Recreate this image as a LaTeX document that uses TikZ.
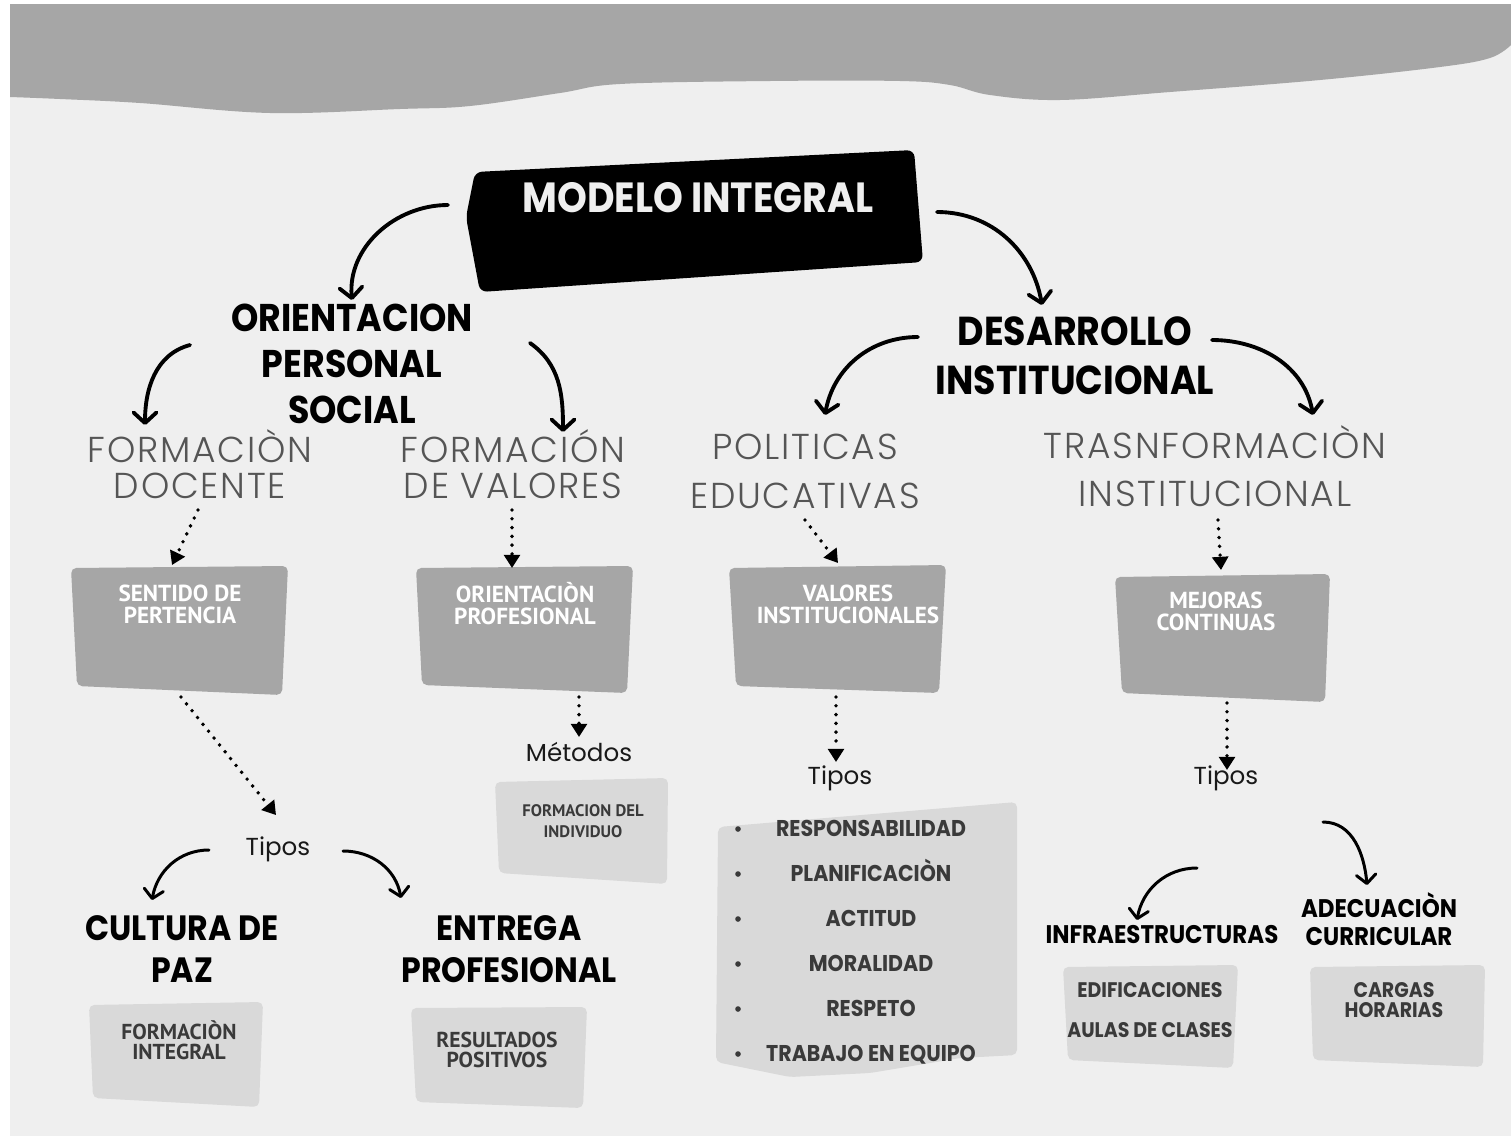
\documentclass[tikz,border=0pt]{standalone}
\usepackage{fontspec}
\setmainfont{Poppins}
\newfontfamily\headfont{Poppins}[FakeStretch=0.9]
\newfontfamily\thinfont{Poppins Light}[LetterSpace=5]
\newfontfamily\boxfont{PT Sans}
\usetikzlibrary{arrows.meta}
\usetikzlibrary{calc}
\tikzset{>=latex}

\definecolor{paper}{HTML}{EFEFEF}
\definecolor{wavegray}{HTML}{A6A6A6}
\definecolor{darkpatch}{HTML}{A6A6A6}
\definecolor{lightpatch}{HTML}{D9D9D9}
\definecolor{headgray}{HTML}{555555}
\definecolor{inkgray}{HTML}{3A3A3A}

\tikzset{
  title/.style={font=\headfont\bfseries\fontsize{22}{26}\selectfont, align=center, inner sep=0pt},
  subtitle/.style={font=\thinfont\fontsize{20.5}{20.5}\selectfont, text=headgray, align=center, inner sep=0pt},
  boxtext/.style={font=\boxfont\bfseries\fontsize{13.2}{12.5}\selectfont, text=white, align=center, inner sep=0pt},
  notetext/.style={font=\boxfont\bfseries\fontsize{12.3}{11.5}\selectfont, text=inkgray, align=center, inner sep=0pt},
  listtext/.style={font=\headfont\bfseries\fontsize{13}{13}\selectfont, text=inkgray, align=center, inner sep=0pt},
  smalltitle/.style={font=\headfont\bfseries\fontsize{14.5}{16}\selectfont, align=center, inner sep=0pt},
  plain/.style={font=\fontsize{14}{16}\selectfont, text=black!90, inner sep=0pt},
  curvy/.style={-{Straight Barb[round,length=6pt,width=13pt]}, line width=2.2pt, line cap=round},
  thincurvy/.style={-{Straight Barb[round,length=5pt,width=11pt]}, line width=1.7pt, line cap=round},
  dotty/.style={-{Triangle[length=7.5pt,width=9pt]}, line width=2.2pt, line cap=round, dash pattern=on 0pt off 5pt},
}

\begin{document}
\begin{tikzpicture}[x=0.02cm, y=-0.02cm]
    \useasboundingbox (0,0) rectangle (1511,1136);

    % Paper and grey wave on top
    \fill[white] (0,0) rectangle (1511,1136);
    \fill[paper] (10,4) rectangle (1511,1136);
    \fill[wavegray] (10,4) -- (1511,4) -- plot[smooth, tension=0.6] coordinates {(1511,45) (1490,58) (1440,67) (1320,80) (1170,92) (1060,100) (990,95) (950,85) (900,81) (770,81) (620,84) (560,93) (470,106) (400,109) (270,113) (140,103) (60,99) (10,97)} -- cycle;

    % Patches behind the texts
    \fill[black, rounded corners=4pt] (475,172) -- (914,150) -- (923,262) -- (480,292) -- (466,217) -- cycle;
    \fill[darkpatch, rounded corners=3pt] (71,568) -- (288,566) -- (282,695) -- (77,686) -- cycle;
    \fill[darkpatch, rounded corners=3pt] (416,568) -- (633,566) -- (627,693) -- (422,685) -- cycle;
    \fill[darkpatch, rounded corners=3pt] (729,568) -- (946,565) -- (939,693) -- (736,686) -- cycle;
    \fill[darkpatch, rounded corners=3pt] (1115,577) -- (1330,574) -- (1325,702) -- (1122,693) -- cycle;
    \fill[lightpatch, rounded corners=3pt] (495,782) -- (668,778) -- (667,884) -- (499,873) -- cycle;
    \fill[lightpatch, rounded corners=3pt] (89,1005) -- (263,1002) -- (259,1107) -- (93,1098) -- cycle;
    \fill[lightpatch, rounded corners=3pt] (411,1008) -- (587,1007) -- (583,1108) -- (416,1102) -- cycle;
    \fill[lightpatch, rounded corners=3pt] (718,827) -- (1017,802) -- (1017,1055) -- (960,1058) -- (870,1073) -- (790,1077) -- (716,1062) -- cycle;
    \fill[lightpatch, rounded corners=3pt] (1063,967) -- (1238,965) -- (1233,1068) -- (1068,1060) -- cycle;
    \fill[lightpatch, rounded corners=3pt] (1310,967) -- (1485,965) -- (1483,1067) -- (1313,1060) -- cycle;

    % Headings
    \node[title, text=paper, font=\headfont\bfseries\fontsize{24}{26}\selectfont] (modelo) at (698,198) {MODELO INTEGRAL};
    \node[title] (orient) at (352,364) {ORIENTACION\\PERSONAL\\SOCIAL};
    \node[title, font=\headfont\bfseries\fontsize{23}{28}\selectfont] (desarrollo) at (1075,356) {DESARROLLO\\INSTITUCIONAL};

    \node[subtitle] (fdocente) at (200,464) {FORMACIÒN\\DOCENTE};
    \node[subtitle] (fvalores) at (513,464) {FORMACIÓN\\DE VALORES};
    \node[subtitle, font=\thinfont\fontsize{20.5}{28}\selectfont] (politicas) at (805,471) {POLITICAS\\EDUCATIVAS};
    \node[subtitle, font=\thinfont\fontsize{20.5}{27.5}\selectfont] (trans) at (1215,466) {TRASNFORMACIÒN\\INSTITUCIONAL};

    % Texts on the dark patches
    \node[boxtext] (sentido) at (180,604) {SENTIDO DE\\PERTENCIA};
    \node[boxtext] (oprof) at (525,604) {ORIENTACIÒN\\PROFESIONAL};
    \node[boxtext] (valores) at (848,604) {VALORES\\INSTITUCIONALES};
    \node[boxtext] (mejoras) at (1216,611) {MEJORAS\\CONTINUAS};

    \node[plain] (metodos) at (579,752) {Métodos};
    \node[plain] (tipos1) at (278,849) {Tipos};
    \node[plain] (tipos2) at (840,778) {Tipos};
    \node[plain] (tipos3) at (1226,778) {Tipos};

    \node[notetext, font=\boxfont\bfseries\fontsize{9.5}{12}\selectfont] (individuo) at (583,821) {FORMACION DEL\\INDIVIDUO};

    \node[title, font=\headfont\bfseries\fontsize{20}{24}\selectfont] (cultura) at (182,949) {CULTURA DE\\PAZ};
    \node[title, font=\headfont\bfseries\fontsize{20}{24}\selectfont] (entrega) at (509,949) {ENTREGA\\PROFESIONAL};
    \node[notetext] (fintegral) at (179,1040) {FORMACIÒN\\INTEGRAL};
    \node[notetext] (resultados) at (497,1050) {RESULTADOS\\POSITIVOS};

    % List of values
    \foreach \word [count=\k] in {RESPONSABILIDAD, PLANIFICACIÒN, ACTITUD, MORALIDAD, RESPETO, TRABAJO EN EQUIPO} {
        \node[listtext, anchor=base] (item\k) at (871, 791+45*\k) {\word};
        \fill[inkgray] (738, 784+45*\k) circle [radius=1.6pt];
    }

    \node[smalltitle] (infra) at (1162,935) {INFRAESTRUCTURAS};
    \node[smalltitle] (adecuacion) at (1379,919) {ADECUACIÒN\\CURRICULAR};
    \node[listtext, font=\headfont\bfseries\fontsize{12}{22.7}\selectfont] (edific) at (1150,1010) {EDIFICACIONES\\AULAS DE CLASES};
    \node[listtext, font=\headfont\bfseries\fontsize{12}{11.5}\selectfont] (cargas) at (1394,1000) {CARGAS\\HORARIAS};

    % Curved arrows
    \draw[curvy] ($(modelo)+(-250,7)$) to[out=180,in=95] ($(orient)+(0,-64)$);
    \draw[curvy] ($(modelo)+(239,14)$) to[out=0,in=100] ($(desarrollo)+(-33,-51)$);
    \draw[curvy] ($(orient)+(-162,-19)$) to[out=195,in=90] ($(fdocente)+(-55,-39)$);
    \draw[curvy] ($(orient)+(178,-21)$) to[out=-35,in=90] ($(fvalores)+(50,-32)$);
    \draw[curvy] ($(desarrollo)+(-157,-19)$) to[out=180,in=80] ($(politicas)+(20,-56)$);
    \draw[curvy] ($(desarrollo)+(137,-16)$) to[out=0,in=100] ($(trans)+(98,-51)$);
    \draw[thincurvy] ($(tipos1)+(-69,1)$) to[out=180,in=80] ($(cultura)+(-30,-49)$);
    \draw[thincurvy] ($(tipos1)+(65,2)$) to[out=0,in=100] ($(entrega)+(-108,-51)$);
    \draw[thincurvy] ($(tipos3)+(-29,90)$) to[out=180,in=80] ($(infra)+(-25,-15)$);
    \draw[thincurvy] ($(tipos3)+(97,44)$) to[out=0,in=95] ($(adecuacion)+(-12,-34)$);

    % Dotted arrows
    \draw[dotty] ($(fdocente)+(-2,46)$) -- ($(sentido)+(-8,-39)$);
    \draw[dotty] ($(fvalores)+(-1,46)$) -- ($(oprof)+(-13,-36)$);
    \draw[dotty] ($(politicas)+(0,49)$) -- ($(valores)+(-10,-41)$);
    \draw[dotty] ($(trans)+(3,54)$) -- ($(mejoras)+(5,-41)$);
    \draw[dotty] ($(sentido)+(1,93)$) -- ($(tipos1)+(-2,-34)$);
    \draw[dotty] ($(oprof)+(54,93)$) -- ($(metodos)+(0,-15)$);
    \draw[dotty] ($(valores)+(-12,93)$) -- ($(tipos2)+(-4,-16)$);
    \draw[dotty] ($(mejoras)+(11,92)$) -- ($(tipos3)+(1,-8)$);

\end{tikzpicture}
\end{document}
